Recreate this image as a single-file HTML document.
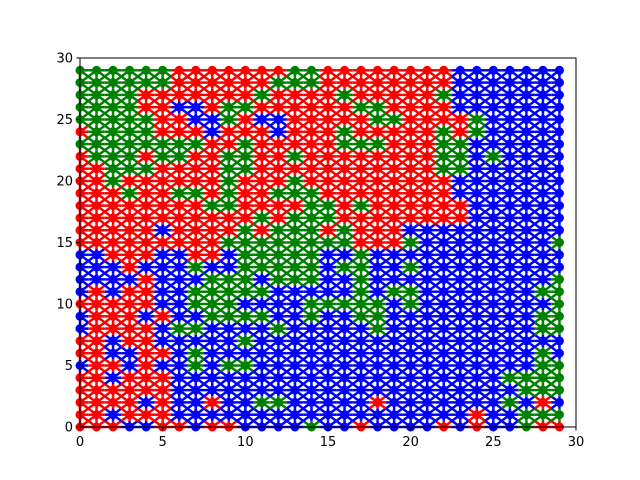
<!DOCTYPE html>
<html><head><meta charset="utf-8"><style>body{margin:0;background:#fff}svg{display:block}</style></head>
<body>
<svg id="chart" width="640" height="480" xmlns="http://www.w3.org/2000/svg">
<g id="marks"></g>
<rect x="80" y="58" width="496" height="369" fill="none" stroke="#000" stroke-width="1"/>
<g id="axes" font-family="DejaVu Sans, Liberation Sans, sans-serif" font-size="13"></g>
</svg>
<script>
const xTicks = [0,5,10,15,20,25,30];
const yTicks = [0,5,10,15,20,25,30];
// rows from y=29 (top) down to y=0; each char is color for x=0..29
const gridRows = [
"GGGGGGRRRRRRRGGRRRRRRRRBBBBBBB",
"GGGGGGRRRRRRGGGRRRRRRRRBBBBBBB",
"GGGGRRRRRRRGRRRRGRRRRRGBBBBBBB",
"GGGGRRBBRGGRRRRRRGGRRRRBBBBBBB",
"GGGGGRRBBGRBBRRRRRGGRRRRGBBBBB",
"RGGGGRRRBRRRBRRRGRRRRRGRGBBBBB",
"GGGGGGGGRRGRRRRRGGGRRRGGBBBBBB",
"RGGGRGGRRGGRRGRRRRRRRRGGBGBBBB",
"RRGGGRRRRGGRRRRRRRRRRRGGBBBBBB",
"RRGRRRRRRGRRRGRRRRRRRRRBBBBBBB",
"RRRGRRGGRGRRGGGRRRRRRRRBBBBBBB",
"RRRRRRRRGGRRRRGGRGRRRRRRBBBBBB",
"RRRRRRRRRRRGRGGGRRRRRRRRBBBBBB",
"RRRRRBRRRRGRGGGRGRRRBBBBBBBBBB",
"RRRRRRRRRGGGGGGGGRRRGBBBBBBBBG",
"BBRRRBBRRBGGGGGBBGBBBBBBBBBBBB",
"BBBRBBBGBBGGGGGBGGBBGBBBBBBBBB",
"BBBBRBBBGGGBGGGBBGBBBBBBBBBBBG",
"BRBRRBBGGGGGBBBBBGBGGBBBBBBBGG",
"RRRRRBBGGGBBBBGGGGGBGBBBBBBBBG",
"BRRRBRBBGGGGBBGBBGGBBBBBBBBBGG",
"BRRRRBGGBBBBGBBBBBGBBBBBBBBBGG",
"RRBRRBBBBBGBBBBBBBBBBBBBBBBBBB",
"RRBBRRBGBBBBBBBBBBBBBBBBBBBBGB",
"BRRBRBBGBGGBBBBBBBBBBBBBBBBBGG",
"RRBRRRBBBBBBBBBBBBBBBBBBBBGGGG",
"RRRRRRBBBBBBBBBBBBBBBBBBBBBGGG",
"RRRRBRBBRBBGGBBBBBRBBBBBBBGBRB",
"RRBRRRBBBBBBBBBBBBBBBBBBRBBGGG",
"RRRBBRRBRRBBBBGBBRBBBBRBRBBGRR"
];
const colorMap = {R:"#ff0000",G:"#008000",B:"#0000ff"};
const X0=80,X1=576,Y0=427,Y1=58;
const sx=v=>X0+(v/30)*(X1-X0);
const sy=v=>Y0-(v/30)*(Y0-Y1);
const NS="http://www.w3.org/2000/svg";
const marks=document.getElementById('marks');
const axes=document.getElementById('axes');
const n=gridRows.length;
function colorAt(x,y){return gridRows[n-1-y][x];}
const lines=document.createElementNS(NS,'g');


marks.appendChild(lines);
const dots=document.createElementNS(NS,'g');


marks.appendChild(dots);
for(let y=0;y<n;y++){for(let x=0;x<gridRows[0].length;x++){
  const c=colorMap[colorAt(x,y)];
  const nb=[[1,0],[0,1],[1,1],[1,-1],[-1,0],[0,-1],[-1,1],[-1,-1]];
  for(const [dx,dy] of nb){
    const nx=x+dx,ny=y+dy;
    if(nx<0||nx>=gridRows[0].length||ny<0||ny>=n) continue;
    const l=document.createElementNS(NS,'line');
    
    
    l.setAttribute('x1',sx(x));l.setAttribute('y1',sy(y));
    l.setAttribute('x2',(sx(x)+sx(nx))/2);l.setAttribute('y2',(sy(y)+sy(ny))/2);
    l.setAttribute('stroke',c);l.setAttribute('stroke-width','2.5');
    lines.appendChild(l);
  }
  const ci=document.createElementNS(NS,'circle');
  
  
  ci.setAttribute('cx',sx(x));ci.setAttribute('cy',sy(y));ci.setAttribute('r','4.5');
  ci.setAttribute('fill',c);
  dots.appendChild(ci);
}}
xTicks.forEach(t=>{
  const l=document.createElementNS(NS,'line');
  
  
  l.setAttribute('x1',sx(t));l.setAttribute('x2',sx(t));l.setAttribute('y1',Y0);l.setAttribute('y2',Y0+3.5);l.setAttribute('stroke','#000');
  axes.appendChild(l);
  const tx=document.createElementNS(NS,'text');
  
  
  tx.setAttribute('x',sx(t));tx.setAttribute('y',Y0+19);tx.setAttribute('text-anchor','middle');
  tx.textContent=t;axes.appendChild(tx);
});
yTicks.forEach(t=>{
  const l=document.createElementNS(NS,'line');
  
  
  l.setAttribute('x1',X0-3.5);l.setAttribute('x2',X0);l.setAttribute('y1',sy(t));l.setAttribute('y2',sy(t));l.setAttribute('stroke','#000');
  axes.appendChild(l);
  const tx=document.createElementNS(NS,'text');
  
  
  tx.setAttribute('x',X0-7);tx.setAttribute('y',sy(t)+4.5);tx.setAttribute('text-anchor','end');
  tx.textContent=t;axes.appendChild(tx);
});
</script>
</body></html>
